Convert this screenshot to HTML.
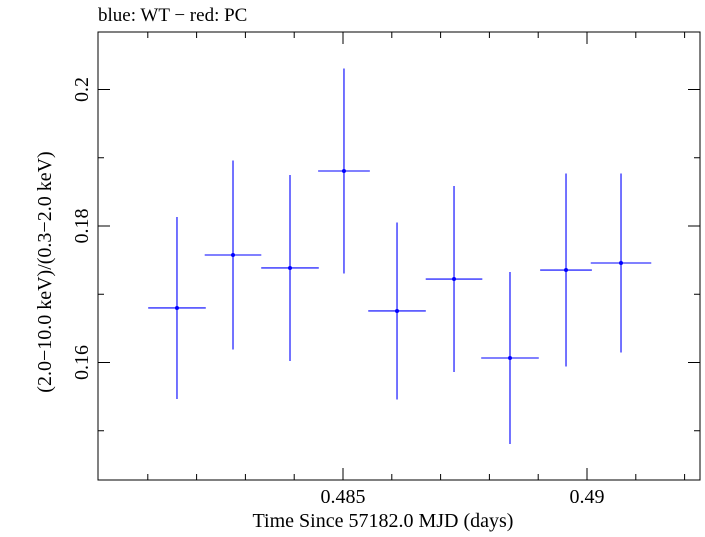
<!DOCTYPE html>
<html><head><meta charset="utf-8"><style>
body{margin:0;background:#fff;}
svg{font-family:"Liberation Serif",serif;}
</style></head><body>
<svg id="chart" width="705" height="532" xmlns="http://www.w3.org/2000/svg">
<text x="98" y="21" font-size="19">blue: WT − red: PC</text>
<rect x="98" y="32" width="602" height="448" fill="none" stroke="#000" stroke-width="1"/>
<g id="axes"></g>
<g id="marks"></g>
<text x="383" y="527" font-size="20" text-anchor="middle">Time Since 57182.0 MJD (days)</text>
<text transform="translate(51,272) rotate(-90)" font-size="20" text-anchor="middle">(2.0−10.0 keV)/(0.3−2.0 keV)</text>
</svg>
<script>
const times=[0.481598,0.482746,0.483914,0.485020,0.486107,0.487275,0.488422,0.489570,0.490697];
const timeErr=[0.00059,0.00058,0.00059,0.00053,0.00059,0.00058,0.00059,0.00053,0.00062];
const ratios=[0.16799,0.17575,0.17385,0.18806,0.16755,0.17223,0.16066,0.17355,0.17458];
const ratioErr=[0.01333,0.01385,0.01363,0.01502,0.01297,0.01363,0.0126,0.01414,0.01311];
const xTicks=[0.485,0.49];
const xTickLabels=["0.485","0.49"];
const yTicks=[0.16,0.18,0.2];
const yTickLabels=["0.16","0.18","0.2"];
const NS="http://www.w3.org/2000/svg";
const X=v=>343+(v-0.485)/0.005*244;
const Y=v=>226-(v-0.18)/0.02*136.5;
function mk(tag,attrs,parent){const e=document.createElementNS(NS,tag);for(const k in attrs)e.setAttribute(k,attrs[k]);parent.appendChild(e);return e;}
const axes=document.getElementById('axes'),marks=document.getElementById('marks');
for(let i=0;i<=12;i++){const v=0.481+i*0.001;const px=X(v);if(px<=98||px>=700)continue;
 const major=Math.abs(v-0.485)<1e-9||Math.abs(v-0.49)<1e-9;const L=major?12:6;
 const t1=mk('line',{x1:px,x2:px,y1:480,y2:480-L,stroke:'#000'},axes);
 
 
 const t2=mk('line',{x1:px,x2:px,y1:32,y2:32+L,stroke:'#000'},axes);
 
 }
xTicks.forEach((v,i)=>{const t=mk('text',{x:X(v),y:503,'font-size':20,'text-anchor':'middle'},axes);t.textContent=xTickLabels[i];
 
 });
for(let i=0;i<=8;i++){const v=0.14+i*0.01;const py=Y(v);if(py<=32||py>=480)continue;
 const major=Math.round(v*100)%2===0;const L=major?12:6;
 const t1=mk('line',{x1:98,x2:98+L,y1:py,y2:py,stroke:'#000'},axes);
 
 
 const t2=mk('line',{x1:700,x2:700-L,y1:py,y2:py,stroke:'#000'},axes);
 
 }
yTicks.forEach((v,i)=>{const t=mk('text',{transform:`translate(88,${Y(v)}) rotate(-90)`,'font-size':20,'text-anchor':'middle'},axes);t.textContent=yTickLabels[i];
 
 });
times.forEach((t,i)=>{const g=mk('g',{},marks);
 
 
 mk('line',{x1:X(t-timeErr[i]),x2:X(t+timeErr[i]),y1:Y(ratios[i]),y2:Y(ratios[i]),stroke:'#0000ff','stroke-width':1.1},g);
 mk('line',{x1:X(t),x2:X(t),y1:Y(ratios[i]-ratioErr[i]),y2:Y(ratios[i]+ratioErr[i]),stroke:'#0000ff','stroke-width':1.1},g);
 mk('circle',{cx:X(t),cy:Y(ratios[i]),r:2,fill:'#0000ff'},g);});
</script>
</body></html>
